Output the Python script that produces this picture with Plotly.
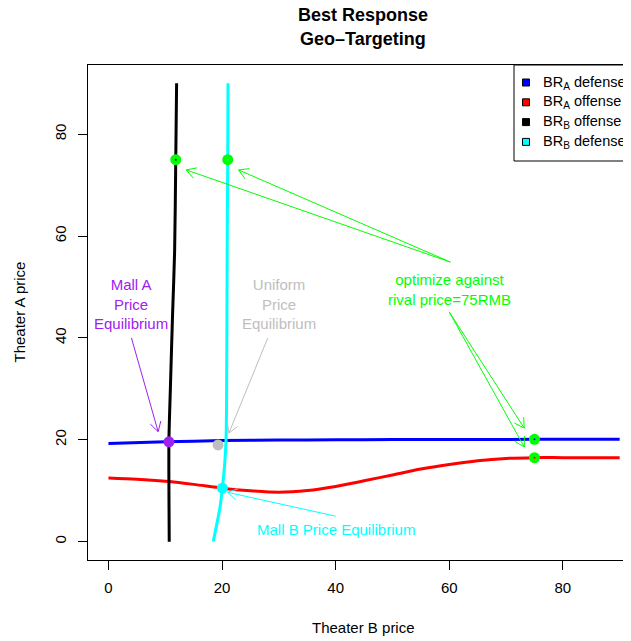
import math
import plotly.graph_objects as go

# ---------------- data ----------------
# BR_A defense (blue): Theater A price as a function of Theater B price
blue_x = [0, 10, 20, 30, 40, 50, 60, 75, 90]
blue_y = [19.3, 19.6, 19.85, 19.95, 20.0, 20.05, 20.05, 20.1, 20.1]

# BR_A offense (red)
red_x = [0, 5, 10, 15, 20, 25, 30, 35, 40, 45, 50, 55, 60, 65, 70, 75, 80, 90]
red_y = [12.5, 12.25, 11.85, 11.25, 10.5, 10.0, 9.72, 10.05, 10.85, 11.95, 13.1,
         14.25, 15.15, 15.9, 16.35, 16.5, 16.5, 16.5]

# BR_B offense (black): Theater B price as a function of Theater A price
black_y = [0, 10, 20, 30, 45, 57, 75, 90]
black_x = [10.7, 10.65, 10.65, 10.9, 11.3, 11.65, 11.85, 12.0]

# BR_B defense (cyan)
cyan_y = [0, 3.6, 6.8, 10.5, 15, 20, 28, 57, 75, 90]
cyan_x = [18.45, 19.1, 19.65, 20.05, 20.45, 20.7, 20.8, 20.9, 21.0, 21.05]

# equilibria
eq_x = [10.65, 19.3, 20.05]
eq_y = [19.6, 19.0, 10.5]
eq_colors = ["#A020F0", "#BEBEBE", "#00FFFF"]

# optimum against rival price = 75
opt_x = [11.85, 21.0, 75, 75]
opt_y = [75, 75, 20.1, 16.5]
opt_dot_colors = ["black", "#00FFFF", "blue", "red"]

legend_labels = ["BR<sub>A</sub> defense", "BR<sub>A</sub> offense",
                 "BR<sub>B</sub> offense", "BR<sub>B</sub> defense"]
legend_colors = ["#0000FF", "#FF0000", "#000000", "#00FFFF"]

x_ticks = [0, 20, 40, 60, 80]
y_ticks = [0, 20, 40, 60, 80]

# annotation texts / arrows (start -> end)
labels = [
    dict(text="Mall A<br>Price<br>Equilibrium", x=4.0, y=46.7, color="#A020F0"),
    dict(text="Uniform<br>Price<br>Equilibrium", x=30.1, y=46.7, color="#BEBEBE"),
    dict(text="Mall B Price Equilibrium", x=40.05, y=2.4, color="#00FFFF"),
    dict(text="optimize against<br>rival price=75RMB", x=60.1, y=49.6, color="#00FF00"),
]
arrows = [
    (4.05, 40.0, 8.75, 21.6, "#A020F0"),
    (28.05, 40.0, 21.2, 21.3, "#BEBEBE"),
    (40.0, 5.0, 20.95, 9.7, "#00FFFF"),
    (60.2, 54.9, 13.7, 73.0, "#00FF00"),
    (60.2, 54.9, 22.9, 73.0, "#00FF00"),
    (60.0, 45.1, 73.2, 22.3, "#00FF00"),
    (60.0, 45.1, 73.2, 18.6, "#00FF00"),
]

# ---------------- layout geometry ----------------
# page is offset by the default 8px body margin; figure coords = page coords - 8
OFF = 8
W, H = 631, 641
ML = 88 - OFF
MT = 65 - OFF
MR = 0
MB = H - (560 - OFF)
PW, PH = W - ML - MR, H - MT - MB
xr = [-3.6, -3.6 + PW / 5.68]
yr = [-3.6, 93.6]
sx = PW / (xr[1] - xr[0])
sy = PH / (yr[1] - yr[0])

FONT = "Liberation Sans, Arial, Helvetica, sans-serif"


def px_x(page_x):
    return (page_x - OFF - ML) / PW


def px_y(page_y):
    return (MT + PH - (page_y - OFF)) / PH


fig = go.Figure()

fig.add_trace(go.Scatter(x=blue_x, y=blue_y, mode="lines", line=dict(color="#0000FF", width=3, shape="spline", smoothing=0.8), showlegend=False, hoverinfo="skip"))
fig.add_trace(go.Scatter(x=red_x, y=red_y, mode="lines", line=dict(color="#FF0000", width=3, shape="spline", smoothing=0.8), showlegend=False, hoverinfo="skip"))
fig.add_trace(go.Scatter(x=black_x, y=black_y, mode="lines", line=dict(color="#000000", width=3, shape="spline", smoothing=0.8), showlegend=False, hoverinfo="skip"))
fig.add_trace(go.Scatter(x=cyan_x, y=cyan_y, mode="lines", line=dict(color="#00FFFF", width=3, shape="spline", smoothing=0.8), showlegend=False, hoverinfo="skip"))


# arrows (shaft + open V head)
def arrow_path(x0, y0, x1, y1, L=11, ang=30):
    dx, dy = (x1 - x0) * sx, (y1 - y0) * sy
    th = math.atan2(dy, dx)
    xs, ys = [x0, x1, None], [y0, y1, None]
    a1 = th + math.pi - math.radians(ang)
    a2 = th + math.pi + math.radians(ang)
    xs += [x1 + L * math.cos(a1) / sx, x1, x1 + L * math.cos(a2) / sx, None]
    ys += [y1 + L * math.sin(a1) / sy, y1, y1 + L * math.sin(a2) / sy, None]
    return xs, ys


for x0, y0, x1, y1, c in arrows:
    xs, ys = arrow_path(x0, y0, x1, y1)
    fig.add_trace(go.Scatter(x=xs, y=ys, mode="lines", line=dict(color=c, width=1), showlegend=False, hoverinfo="skip"))

fig.add_trace(go.Scatter(x=eq_x, y=eq_y, mode="markers", marker=dict(color=eq_colors, size=11, line=dict(width=0)), showlegend=False, hoverinfo="skip"))
fig.add_trace(go.Scatter(x=opt_x, y=opt_y, mode="markers", marker=dict(color="#00FF00", size=11, line=dict(width=0)), showlegend=False, hoverinfo="skip"))
fig.add_trace(go.Scatter(x=opt_x, y=opt_y, mode="markers", marker=dict(color=opt_dot_colors, size=2, line=dict(width=0)), showlegend=False, hoverinfo="skip"))

annotations = []
for lb in labels:
    annotations.append(dict(x=lb["x"], y=lb["y"], xref="x", yref="y", text=lb["text"], showarrow=False,
                            font=dict(family=FONT, size=15, color=lb["color"]), xanchor="center", yanchor="middle"))

# title
cx = px_x(363)
annotations.append(dict(x=cx, y=1, xref="paper", yref="paper", yanchor="bottom", yshift=38, showarrow=False,
                        text="<b>Best Response</b>", font=dict(family=FONT, size=18, color="black")))
annotations.append(dict(x=cx, y=1, xref="paper", yref="paper", yanchor="bottom", yshift=14, showarrow=False,
                        text="<b>Geo–Targeting</b>", font=dict(family=FONT, size=18, color="black")))
# axis titles
annotations.append(dict(x=cx, y=0, xref="paper", yref="paper", yanchor="middle", yshift=-67, showarrow=False,
                        text="Theater B price", font=dict(family=FONT, size=15, color="black")))
annotations.append(dict(x=0, y=0.5, xref="paper", yref="paper", xanchor="center", xshift=-69, textangle=-90, showarrow=False,
                        text="Theater A price", font=dict(family=FONT, size=15, color="black")))

# manual legend
shapes = []
shapes.append(dict(type="rect", xref="paper", yref="paper", x0=px_x(514), x1=1.1, y0=px_y(161), y1=1,
                   line=dict(color="black", width=1), fillcolor="white", layer="above"))
sym_x = px_x(526)
txt_x = px_x(541)
for i, (lab, col) in enumerate(zip(legend_labels, legend_colors)):
    yp = px_y(82.5 + i * 19.8)
    shapes.append(dict(type="rect", xref="paper", yref="paper", xsizemode="pixel", ysizemode="pixel",
                       xanchor=sym_x, yanchor=yp, x0=-3.5, x1=3.5, y0=-3.5, y1=3.5,
                       fillcolor=col, line=dict(color="black", width=1), layer="above"))
    annotations.append(dict(x=txt_x, y=yp, xref="paper", yref="paper", xanchor="left", yanchor="middle",
                            text=lab, showarrow=False, font=dict(family=FONT, size=14.5, color="black")))

fig.update_layout(
    width=W, height=H, margin=dict(l=ML, r=MR, t=MT, b=MB, autoexpand=False),
    paper_bgcolor="white", plot_bgcolor="white",
    showlegend=False,
    annotations=annotations, shapes=shapes,
    xaxis=dict(range=xr, tickvals=x_ticks, ticks="outside", ticklen=9, tickcolor="black", tickwidth=1,
               showgrid=False, zeroline=False, showline=True, linecolor="black", linewidth=1, mirror=True,
               tickfont=dict(family=FONT, size=15, color="black"), ticklabelstandoff=5),
    yaxis=dict(range=yr, tickvals=y_ticks, ticks="outside", ticklen=9, tickcolor="black", tickwidth=1,
               showgrid=False, zeroline=False, showline=True, linecolor="black", linewidth=1,
               tickangle=-90, tickfont=dict(family=FONT, size=15, color="black"), ticklabelstandoff=6),
)

fig.write_html("out.html")
